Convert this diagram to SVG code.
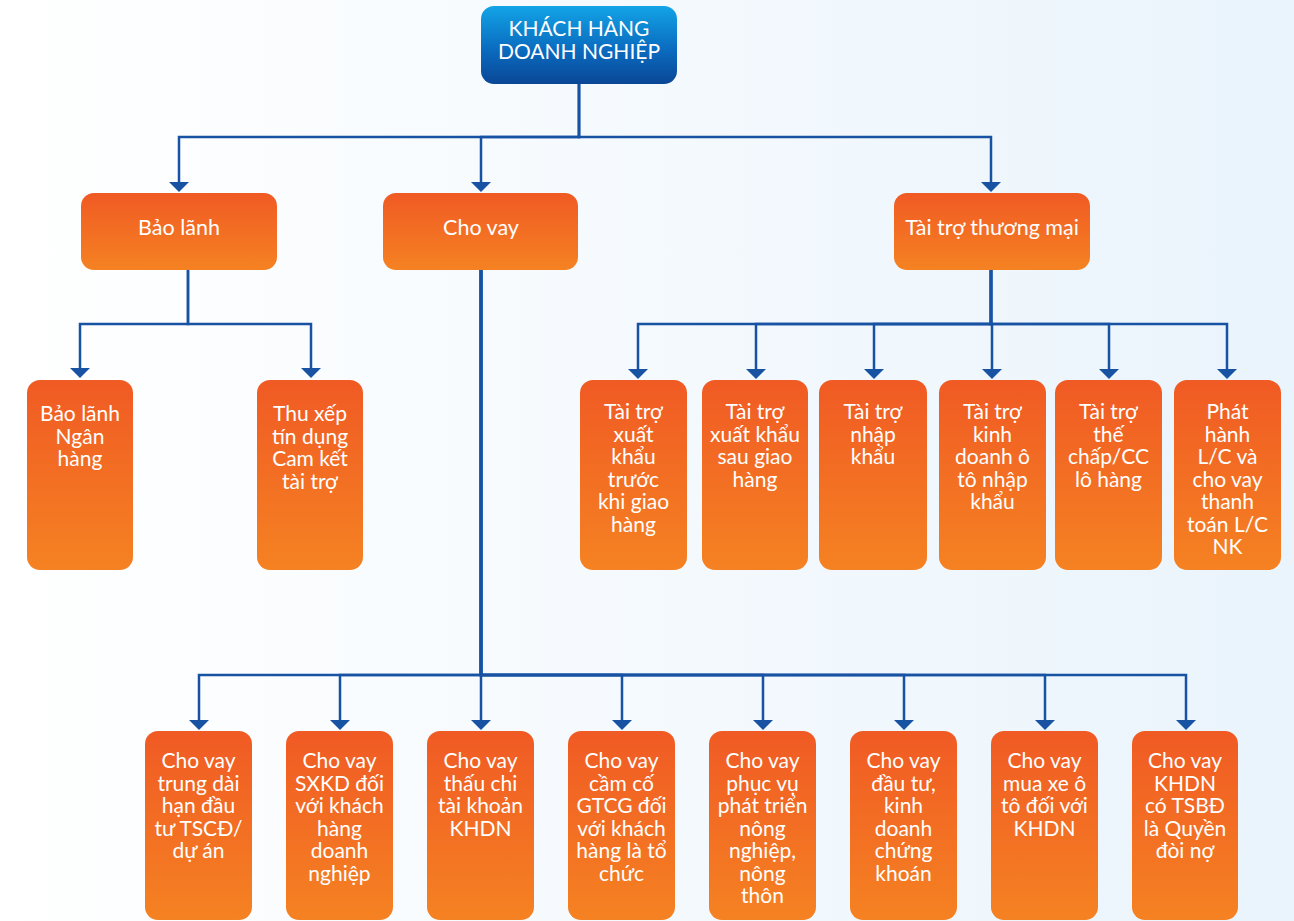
<svg xmlns="http://www.w3.org/2000/svg" width="1294" height="921" viewBox="0 0 1294 921">
<defs>
<linearGradient id="bg" x1="0" y1="0" x2="1" y2="0">
<stop offset="0" stop-color="#ffffff"/>
<stop offset="1" stop-color="#eaf4fc"/>
</linearGradient>
<linearGradient id="og" x1="0" y1="0" x2="0" y2="1">
<stop offset="0" stop-color="#f05a24"/>
<stop offset="1" stop-color="#f58222"/>
</linearGradient>
<linearGradient id="bgr" x1="0" y1="0" x2="0" y2="1">
<stop offset="0" stop-color="#12a4e6"/>
<stop offset="0.55" stop-color="#0a6cc0"/>
<stop offset="1" stop-color="#0a4796"/>
</linearGradient>
<marker id="arr" markerUnits="userSpaceOnUse" markerWidth="11" markerHeight="22" viewBox="0 -11 11 22" refX="0" refY="0" orient="auto">
<path d="M0,-10 L10,0 L0,10 z" fill="#1752a3"/>
</marker>
</defs>
<style>
.n{fill:url(#og)}
.t{font-family:Lato,"Noto Sans",sans-serif;font-size:21px;fill:#ffffff;text-anchor:middle}
.h{font-size:21.5px}
.c{fill:none;stroke:#1752a3;stroke-width:2.5;marker-end:url(#arr)}
</style>
<rect x="0" y="0" width="1294" height="921" fill="url(#bg)"/>

<g id="connectors">
<path class="c" d="M579,84 V137 H179 V182"/>
<path class="c" d="M579,84 V137 H481 V182"/>
<path class="c" d="M579,84 V137 H991 V182"/>
<path class="c" d="M188,270 V324 H80 V368"/>
<path class="c" d="M188,270 V324 H311 V368"/>
<path class="c" d="M991,270 V324 H638 V369"/>
<path class="c" d="M991,270 V324 H756 V369"/>
<path class="c" d="M991,270 V324 H874 V369"/>
<path class="c" d="M991,270 V324 H992 V369"/>
<path class="c" d="M991,270 V324 H1109 V369"/>
<path class="c" d="M991,270 V324 H1227 V369"/>
<path class="c" d="M481,270 V675 H199 V720"/>
<path class="c" d="M481,270 V675 H340 V720"/>
<path class="c" d="M481,270 V675 H481 V720"/>
<path class="c" d="M481,270 V675 H622 V720"/>
<path class="c" d="M481,270 V675 H763 V720"/>
<path class="c" d="M481,270 V675 H904 V720"/>
<path class="c" d="M481,270 V675 H1045 V720"/>
<path class="c" d="M481,270 V675 H1186 V720"/>
</g>

<g id="root">
<rect x="481" y="6" width="196" height="78" rx="13" fill="url(#bgr)"/>
<text class="t" x="579" y="36">KHÁCH HÀNG</text>
<text class="t" x="579" y="59">DOANH NGHIỆP</text>
</g>

<g id="bao-lanh">
<rect class="n" x="81" y="193" width="196" height="77" rx="13"/>
<text class="t h" x="179" y="235">Bảo lãnh</text>
</g>
<g id="cho-vay">
<rect class="n" x="383" y="193" width="195" height="77" rx="13"/>
<text class="t h" x="481" y="235">Cho vay</text>
</g>
<g id="tai-tro-thuong-mai">
<rect class="n" x="894" y="193" width="196" height="77" rx="13"/>
<text class="t h" x="992" y="235">Tài trợ thương mại</text>
</g>

<g id="bl-ngan-hang">
<rect class="n" x="27" y="380" width="106" height="190" rx="13"/>
<text class="t" x="80" y="421">Bảo lãnh</text>
<text class="t" x="80" y="443.5">Ngân</text>
<text class="t" x="80" y="466">hàng</text>
</g>
<g id="thu-xep">
<rect class="n" x="257" y="380" width="106" height="190" rx="13"/>
<text class="t" x="310" y="421">Thu xếp</text>
<text class="t" x="310" y="443.5">tín dụng</text>
<text class="t" x="310" y="466">Cam kết</text>
<text class="t" x="310" y="488.5">tài trợ</text>
</g>

<g id="tt-xk-truoc">
<rect class="n" x="580" y="380" width="107" height="190" rx="13"/>
<text class="t" x="633.5" y="419">Tài trợ</text>
<text class="t" x="633.5" y="441.5">xuất</text>
<text class="t" x="633.5" y="464">khẩu</text>
<text class="t" x="633.5" y="486.5">trước</text>
<text class="t" x="633.5" y="509">khi giao</text>
<text class="t" x="633.5" y="531.5">hàng</text>
</g>
<g id="tt-xk-sau">
<rect class="n" x="702" y="380" width="106" height="190" rx="13"/>
<text class="t" x="755" y="419">Tài trợ</text>
<text class="t" x="755" y="441.5">xuất khẩu</text>
<text class="t" x="755" y="464">sau giao</text>
<text class="t" x="755" y="486.5">hàng</text>
</g>
<g id="tt-nk">
<rect class="n" x="819" y="380" width="108" height="190" rx="13"/>
<text class="t" x="873" y="419">Tài trợ</text>
<text class="t" x="873" y="441.5">nhập</text>
<text class="t" x="873" y="464">khẩu</text>
</g>
<g id="tt-oto">
<rect class="n" x="939" y="380" width="107" height="190" rx="13"/>
<text class="t" x="992.5" y="419">Tài trợ</text>
<text class="t" x="992.5" y="441.5">kinh</text>
<text class="t" x="992.5" y="464">doanh ô</text>
<text class="t" x="992.5" y="486.5">tô nhập</text>
<text class="t" x="992.5" y="509">khẩu</text>
</g>
<g id="tt-the-chap">
<rect class="n" x="1055" y="380" width="107" height="190" rx="13"/>
<text class="t" x="1108.5" y="419">Tài trợ</text>
<text class="t" x="1108.5" y="441.5">thế</text>
<text class="t" x="1108.5" y="464">chấp/CC</text>
<text class="t" x="1108.5" y="486.5">lô hàng</text>
</g>
<g id="phat-hanh-lc">
<rect class="n" x="1174" y="380" width="107" height="190" rx="13"/>
<text class="t" x="1227.5" y="419">Phát</text>
<text class="t" x="1227.5" y="441.5">hành</text>
<text class="t" x="1227.5" y="464">L/C và</text>
<text class="t" x="1227.5" y="486.5">cho vay</text>
<text class="t" x="1227.5" y="509">thanh</text>
<text class="t" x="1227.5" y="531.5">toán L/C</text>
<text class="t" x="1227.5" y="554">NK</text>
</g>

<g id="cv-trung-dai-han">
<rect class="n" x="145" y="731" width="107" height="189" rx="13"/>
<text class="t" x="198.5" y="768">Cho vay</text>
<text class="t" x="198.5" y="790.5">trung dài</text>
<text class="t" x="198.5" y="813">hạn đầu</text>
<text class="t" x="198.5" y="835.5">tư TSCĐ/</text>
<text class="t" x="198.5" y="858">dự án</text>
</g>
<g id="cv-sxkd">
<rect class="n" x="286" y="731" width="107" height="189" rx="13"/>
<text class="t" x="339.5" y="768">Cho vay</text>
<text class="t" x="339.5" y="790.5">SXKD đối</text>
<text class="t" x="339.5" y="813">với khách</text>
<text class="t" x="339.5" y="835.5">hàng</text>
<text class="t" x="339.5" y="858">doanh</text>
<text class="t" x="339.5" y="880.5">nghiệp</text>
</g>
<g id="cv-thau-chi">
<rect class="n" x="427" y="731" width="107" height="189" rx="13"/>
<text class="t" x="480.5" y="768">Cho vay</text>
<text class="t" x="480.5" y="790.5">thấu chi</text>
<text class="t" x="480.5" y="813">tài khoản</text>
<text class="t" x="480.5" y="835.5">KHDN</text>
</g>
<g id="cv-cam-co">
<rect class="n" x="568" y="731" width="107" height="189" rx="13"/>
<text class="t" x="621.5" y="768">Cho vay</text>
<text class="t" x="621.5" y="790.5">cầm cố</text>
<text class="t" x="621.5" y="813">GTCG đối</text>
<text class="t" x="621.5" y="835.5">với khách</text>
<text class="t" x="621.5" y="858">hàng là tổ</text>
<text class="t" x="621.5" y="880.5">chức</text>
</g>
<g id="cv-nong-nghiep">
<rect class="n" x="709" y="731" width="107" height="189" rx="13"/>
<text class="t" x="762.5" y="768">Cho vay</text>
<text class="t" x="762.5" y="790.5">phục vụ</text>
<text class="t" x="762.5" y="813">phát triển</text>
<text class="t" x="762.5" y="835.5">nông</text>
<text class="t" x="762.5" y="858">nghiệp,</text>
<text class="t" x="762.5" y="880.5">nông</text>
<text class="t" x="762.5" y="903">thôn</text>
</g>
<g id="cv-chung-khoan">
<rect class="n" x="850" y="731" width="107" height="189" rx="13"/>
<text class="t" x="903.5" y="768">Cho vay</text>
<text class="t" x="903.5" y="790.5">đầu tư,</text>
<text class="t" x="903.5" y="813">kinh</text>
<text class="t" x="903.5" y="835.5">doanh</text>
<text class="t" x="903.5" y="858">chứng</text>
<text class="t" x="903.5" y="880.5">khoán</text>
</g>
<g id="cv-mua-xe">
<rect class="n" x="991" y="731" width="107" height="189" rx="13"/>
<text class="t" x="1044.5" y="768">Cho vay</text>
<text class="t" x="1044.5" y="790.5">mua xe ô</text>
<text class="t" x="1044.5" y="813">tô đối với</text>
<text class="t" x="1044.5" y="835.5">KHDN</text>
</g>
<g id="cv-quyen-doi-no">
<rect class="n" x="1132" y="731" width="106" height="189" rx="13"/>
<text class="t" x="1185" y="768">Cho vay</text>
<text class="t" x="1185" y="790.5">KHDN</text>
<text class="t" x="1185" y="813">có TSBĐ</text>
<text class="t" x="1185" y="835.5">là Quyền</text>
<text class="t" x="1185" y="858">đòi nợ</text>
</g>
</svg>
